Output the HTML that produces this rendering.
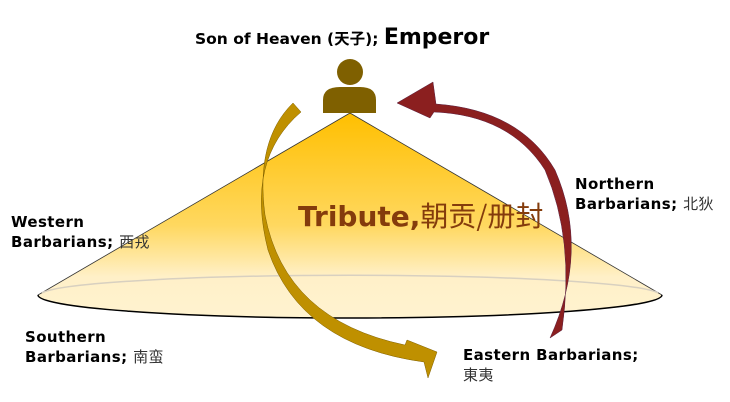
<!DOCTYPE html>
<html><head><meta charset="utf-8"><style>
body{margin:0;width:730px;height:402px;background:#fff;overflow:hidden;position:relative;font-family:"DejaVu Sans","Noto Sans CJK SC",sans-serif}
.t{position:absolute;font-weight:bold;font-size:15px;color:#000;line-height:19px;letter-spacing:0.4px;white-space:nowrap}
.c{font-weight:normal;color:#333;font-family:"Noto Sans CJK SC",sans-serif}
</style></head><body>
<svg width="730" height="402" style="position:absolute;left:0;top:0">
<defs>
<linearGradient id="g" x1="0" y1="0" x2="0" y2="1">
<stop offset="0" stop-color="#ffbf00"/><stop offset="0.55" stop-color="#ffd860"/><stop offset="0.8" stop-color="#fff0c8"/><stop offset="1" stop-color="#fff3d0"/></linearGradient>
</defs>
<path d="M350,113 L662,295 A312,23 0 0 1 38,295 Z" fill="url(#g)" stroke="#333" stroke-width="0.8"/>
<path d="M38,295 A312,23 0 0 0 662,295" fill="none" stroke="#000" stroke-width="1.5"/>
<path d="M42,293 A310,20 0 0 1 658,293" fill="none" stroke="#d8d0c0" stroke-width="1.5"/>
<circle cx="350" cy="72" r="13" fill="#7f6000"/>
<path d="M323,113 L323,100 Q323,87 340,87 L360,87 Q376,87 376,100 L376,113 Z" fill="#7f6000"/>
<path d="M293,103 Q255,140 265,215 Q285,320 405,345 L407,340 L437,352 L428,378 L424,362 Q300,345 268,250 Q245,160 301,112 Z" fill="#bf9000" stroke="#7f6000" stroke-width="0.5"/>
<path d="M550,338 Q590,250 555,170 Q520,110 436,104 L433,82 L397,103 L430,118 L434,112 Q510,115 545,170 Q575,240 562,330 Z" fill="#8b1f1f" stroke="#5a2040" stroke-width="0.5"/>
</svg>
<div class="t" style="left:195px;top:28px;font-size:15.5px;letter-spacing:0">Son of Heaven (<span style="font-family:'Noto Sans CJK SC'">天子</span>); <span style="font-size:22px">Emperor</span></div>
<div class="t" style="left:298px;top:197px;font-size:28px;color:#843c0c;line-height:36px;letter-spacing:0">Tribute,<span class="c" style="color:#843c0c">朝贡/册封</span></div>
<div class="t" style="left:11px;top:213px">Western<br>Barbarians; <span class="c">西戎</span></div>
<div class="t" style="left:575px;top:175px">Northern<br>Barbarians; <span class="c">北狄</span></div>
<div class="t" style="left:25px;top:328px">Southern<br>Barbarians; <span class="c">南蛮</span></div>
<div class="t" style="left:463px;top:346px">Eastern Barbarians;<br><span class="c">東夷</span></div>
</body></html>
